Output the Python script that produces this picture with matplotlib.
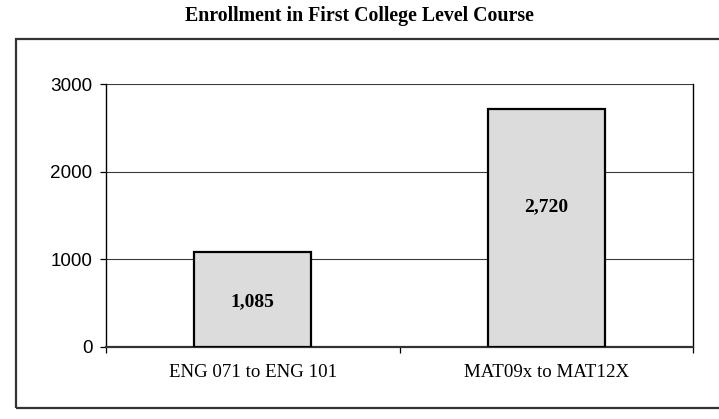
# enrollment in first college level course, bar chart

import matplotlib
matplotlib.use("Agg")
import matplotlib.pyplot as plt
from matplotlib.patches import Rectangle

categories = ["ENG 071 to ENG 101", "MAT09x to MAT12X"]
enrollment = [1085, 2720]
value_labels = ["1,085", "2,720"]
label_heights = [510, 1600]
y_ticks = [0, 1000, 2000, 3000]

W, H = 719, 419
fig = plt.figure(figsize=(W / 100, H / 100), dpi=100)

# outer frame around the plot area (right edge runs off the canvas)
frame = Rectangle((16 / W, 1 - 408 / H), 1.0, (408 - 39) / H,
                  transform=fig.transFigure, fill=False,
                  edgecolor="#333333", linewidth=1.6, zorder=0)
fig.patches.append(frame)

fig.text(0.5, 1 - 16 / H, "Enrollment in First College Level Course",
         ha="center", va="center", fontsize=14.3, fontweight="bold",
         family="Liberation Serif")

ax = fig.add_axes([106 / W, 1 - 346.5 / H, (693 - 106) / W, (346.5 - 84) / H])
x = range(len(categories))
ax.bar(x, enrollment, width=0.4, color="#dcdcdc", edgecolor="black",
       linewidth=1.6, zorder=3)
for i, (txt, yl) in enumerate(zip(value_labels, label_heights)):
    ax.text(i, yl, txt, ha="center", va="center", fontsize=14,
            fontweight="bold", family="Liberation Serif", zorder=4)

ax.set_xlim(-0.5, len(categories) - 0.5)
ax.set_ylim(0, 3000)
ax.set_yticks(y_ticks)
ax.set_yticklabels([str(t) for t in y_ticks], fontsize=13.6,
                   family="Liberation Sans")
ax.set_xticks([-0.5, 0.5, 1.5])
ax.set_xticklabels([])
ax.tick_params(axis="both", direction="out", length=4.3, width=0.9, color="black")
ax.tick_params(axis="y", pad=5.5)
for i, c in enumerate(categories):
    ax.text(i, -300, c, ha="center", va="center", fontsize=13.6,
            family="Liberation Serif")

for t in y_ticks[1:]:
    ax.axhline(t, color="#3a3a3a", linewidth=0.8, zorder=1)

ax.spines["top"].set_visible(False)
ax.spines["left"].set_color("black")
ax.spines["left"].set_linewidth(1.0)
ax.spines["right"].set_color("black")
ax.spines["right"].set_linewidth(1.0)
ax.spines["bottom"].set_color("#333333")
ax.spines["bottom"].set_linewidth(1.6)

fig.savefig("out.png", dpi=100)
